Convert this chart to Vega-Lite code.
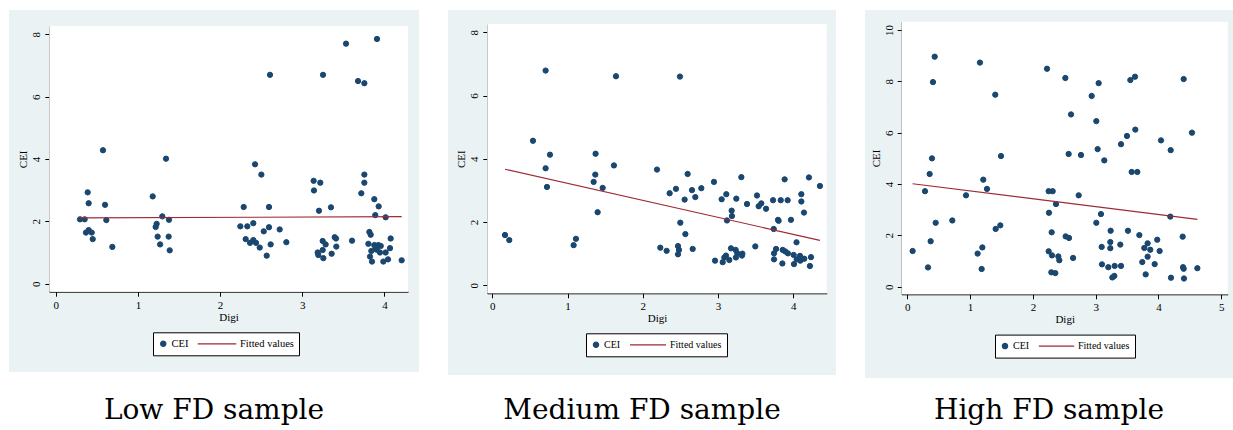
{
  "$schema": "https://vega.github.io/schema/vega-lite/v6.json",
  "background": "white",
  "padding": {"left": 9, "top": 10, "right": 0, "bottom": 0},
  "spacing": 29,
  "resolve": {"scale": {"color": "independent", "stroke": "independent", "shape": "independent", "size": "independent"}, "legend": {"color": "independent", "stroke": "independent", "shape": "independent", "size": "independent"}},
  "config": {
    "view": {"stroke": null},
    "axis": {
      "labelFont": "Liberation Serif", "labelFontSize": 11, "labelColor": "black",
      "titleFont": "Liberation Serif", "titleFontSize": 11, "titleFontWeight": "normal", "titleColor": "black",
      "domainColor": "black", "domainWidth": 1, "tickColor": "black", "tickWidth": 1, "tickSize": 4.5,
      "labelFlush": false, "zindex": 1, "format": "d"
    },
    "axisX": {"grid": false, "labelPadding": 3, "titlePadding": 1, "labelAngle": 0},
    "axisY": {"grid": true, "gridColor": "#e3ebee", "gridWidth": 1.5, "labelAngle": -90, "labelPadding": 3, "titlePadding": 2},
    "legend": {"labelFont": "Liberation Serif", "labelColor": "black", "symbolStrokeWidth": 1.2, "strokeColor": "black", "fillColor": "white", "padding": 5, "labelOffset": 3, "columnPadding": 8, "clipHeight": 13, "direction": "horizontal", "orient": "none"},
    "title": {"font": "DejaVu Serif", "fontSize": 28, "fontWeight": "normal", "color": "black", "orient": "bottom", "anchor": "middle", "baseline": "top"}
  },
  "datasets": {
    "low": [
      {"Digi":0.296,"CEI":2.065},{"Digi":0.352,"CEI":2.065},{"Digi":0.389,"CEI":2.93},{"Digi":0.401,"CEI":2.58},{"Digi":0.368,"CEI":1.64},{"Digi":0.401,"CEI":1.72},{"Digi":0.438,"CEI":1.64},{"Digi":0.45,"CEI":1.43},{"Digi":0.575,"CEI":4.28},{"Digi":0.6,"CEI":2.53},{"Digi":0.616,"CEI":2.04},{"Digi":0.689,"CEI":1.18},{"Digi":1.18,"CEI":2.8},{"Digi":1.216,"CEI":1.82},{"Digi":1.228,"CEI":1.92},{"Digi":1.24,"CEI":1.51},{"Digi":1.27,"CEI":1.26},{"Digi":1.297,"CEI":2.16},{"Digi":1.342,"CEI":4.01},{"Digi":1.378,"CEI":2.05},{"Digi":1.374,"CEI":1.51},{"Digi":1.387,"CEI":1.07},
      {"Digi":2.607,"CEI":6.7},{"Digi":3.252,"CEI":6.7},{"Digi":3.532,"CEI":7.7},{"Digi":3.909,"CEI":7.85},{"Digi":3.678,"CEI":6.5},{"Digi":3.755,"CEI":6.43},{"Digi":2.425,"CEI":3.83},{"Digi":2.502,"CEI":3.5},{"Digi":2.287,"CEI":2.46},{"Digi":2.595,"CEI":2.46},{"Digi":2.246,"CEI":1.84},{"Digi":2.331,"CEI":1.84},{"Digi":2.404,"CEI":1.94},{"Digi":2.311,"CEI":1.43},{"Digi":2.364,"CEI":1.31},{"Digi":2.404,"CEI":1.4},{"Digi":2.437,"CEI":1.31},{"Digi":2.482,"CEI":1.16},{"Digi":2.531,"CEI":1.68},{"Digi":2.595,"CEI":1.81},{"Digi":2.567,"CEI":0.9},{"Digi":2.615,"CEI":1.26},{"Digi":2.725,"CEI":1.74},{"Digi":2.806,"CEI":1.33},{"Digi":3.138,"CEI":3.3},{"Digi":3.219,"CEI":3.24},{"Digi":3.142,"CEI":2.99},{"Digi":3.203,"CEI":2.34},{"Digi":3.349,"CEI":2.45},{"Digi":3.187,"CEI":1.0},{"Digi":3.195,"CEI":0.92},{"Digi":3.256,"CEI":0.82},{"Digi":3.248,"CEI":1.37},{"Digi":3.284,"CEI":1.26},{"Digi":3.248,"CEI":1.08},{"Digi":3.357,"CEI":0.96},{"Digi":3.394,"CEI":1.49},{"Digi":3.414,"CEI":1.19},{"Digi":3.41,"CEI":1.45},{"Digi":3.605,"CEI":1.38},{"Digi":3.755,"CEI":3.5},{"Digi":3.755,"CEI":3.24},{"Digi":3.718,"CEI":2.9},{"Digi":3.876,"CEI":2.71},{"Digi":3.929,"CEI":2.48},{"Digi":3.888,"CEI":2.2},{"Digi":4.014,"CEI":2.13},{"Digi":3.816,"CEI":1.66},{"Digi":3.832,"CEI":1.57},{"Digi":3.804,"CEI":1.28},{"Digi":3.876,"CEI":1.24},{"Digi":3.925,"CEI":1.24},{"Digi":3.954,"CEI":1.21},{"Digi":3.84,"CEI":1.05},{"Digi":3.905,"CEI":1.09},{"Digi":3.945,"CEI":1.0},{"Digi":3.824,"CEI":0.87},{"Digi":3.848,"CEI":0.71},{"Digi":3.986,"CEI":0.71},{"Digi":4.014,"CEI":1.0},{"Digi":4.043,"CEI":0.78},{"Digi":4.067,"CEI":1.14},{"Digi":4.075,"CEI":1.45},{"Digi":4.209,"CEI":0.75},{"Digi":3.893,"CEI":1.17}
    ],
    "lowfit": [{"Digi":0.296,"Fitted":2.11},{"Digi":4.209,"Fitted":2.15}],
    "medium": [
      {"Digi":0.709,"CEI":6.79},{"Digi":1.644,"CEI":6.61},{"Digi":0.541,"CEI":4.57},{"Digi":0.767,"CEI":4.13},{"Digi":0.709,"CEI":3.7},{"Digi":0.727,"CEI":3.11},{"Digi":0.169,"CEI":1.59},{"Digi":0.226,"CEI":1.43},{"Digi":1.081,"CEI":1.27},{"Digi":1.112,"CEI":1.47},{"Digi":1.373,"CEI":4.16},{"Digi":1.369,"CEI":3.5},{"Digi":1.347,"CEI":3.27},{"Digi":1.467,"CEI":3.08},{"Digi":1.4,"CEI":2.31},{"Digi":1.617,"CEI":3.79},
      {"Digi":2.494,"CEI":6.6},{"Digi":2.189,"CEI":3.66},{"Digi":2.596,"CEI":3.52},{"Digi":2.357,"CEI":2.91},{"Digi":2.441,"CEI":3.05},{"Digi":2.556,"CEI":2.71},{"Digi":2.654,"CEI":3.01},{"Digi":2.698,"CEI":2.79},{"Digi":2.778,"CEI":3.07},{"Digi":2.499,"CEI":1.98},{"Digi":2.566,"CEI":1.62},{"Digi":2.233,"CEI":1.19},{"Digi":2.317,"CEI":1.09},{"Digi":2.468,"CEI":1.24},{"Digi":2.481,"CEI":1.12},{"Digi":2.468,"CEI":0.98},{"Digi":2.663,"CEI":1.15},{"Digi":2.946,"CEI":3.27},{"Digi":3.048,"CEI":2.72},{"Digi":3.11,"CEI":2.88},{"Digi":3.31,"CEI":3.42},{"Digi":3.243,"CEI":2.74},{"Digi":3.385,"CEI":2.57},{"Digi":3.181,"CEI":2.36},{"Digi":3.185,"CEI":2.19},{"Digi":3.119,"CEI":2.05},{"Digi":2.96,"CEI":0.78},{"Digi":3.062,"CEI":0.73},{"Digi":3.084,"CEI":0.88},{"Digi":3.106,"CEI":0.94},{"Digi":3.15,"CEI":0.8},{"Digi":3.172,"CEI":1.17},{"Digi":3.234,"CEI":1.12},{"Digi":3.238,"CEI":0.88},{"Digi":3.256,"CEI":1.01},{"Digi":3.318,"CEI":0.94},{"Digi":3.323,"CEI":1.0},{"Digi":3.495,"CEI":1.23},{"Digi":3.518,"CEI":2.84},{"Digi":3.54,"CEI":2.5},{"Digi":3.575,"CEI":2.59},{"Digi":3.638,"CEI":2.42},{"Digi":3.731,"CEI":2.69},{"Digi":3.833,"CEI":2.69},{"Digi":3.925,"CEI":2.69},{"Digi":3.885,"CEI":3.35},{"Digi":3.797,"CEI":2.07},{"Digi":3.805,"CEI":2.04},{"Digi":3.969,"CEI":2.07},{"Digi":3.74,"CEI":1.78},{"Digi":4.043,"CEI":1.36},{"Digi":3.744,"CEI":1.01},{"Digi":3.771,"CEI":1.15},{"Digi":3.744,"CEI":0.82},{"Digi":3.859,"CEI":1.12},{"Digi":3.894,"CEI":1.07},{"Digi":3.929,"CEI":1.01},{"Digi":3.855,"CEI":0.69},{"Digi":4.005,"CEI":0.96},{"Digi":4.009,"CEI":0.67},{"Digi":4.045,"CEI":0.82},{"Digi":4.089,"CEI":0.93},{"Digi":4.093,"CEI":0.78},{"Digi":4.146,"CEI":0.84},{"Digi":4.221,"CEI":0.61},{"Digi":4.235,"CEI":0.89},{"Digi":4.107,"CEI":2.88},{"Digi":4.107,"CEI":2.65},{"Digi":4.142,"CEI":2.3},{"Digi":4.208,"CEI":3.41},{"Digi":4.354,"CEI":3.14}
    ],
    "mediumfit": [{"Digi":0.169,"Fitted":3.67},{"Digi":4.354,"Fitted":1.42}],
    "high": [
      {"Digi":0.436,"CEI":8.96},{"Digi":0.409,"CEI":7.97},{"Digi":1.157,"CEI":8.73},{"Digi":1.401,"CEI":7.48},{"Digi":0.393,"CEI":5.0},{"Digi":0.356,"CEI":4.39},{"Digi":0.282,"CEI":3.72},{"Digi":0.452,"CEI":2.49},{"Digi":0.372,"CEI":1.77},{"Digi":0.085,"CEI":1.39},{"Digi":0.33,"CEI":0.75},{"Digi":0.717,"CEI":2.58},{"Digi":0.935,"CEI":3.56},{"Digi":1.21,"CEI":4.17},{"Digi":1.269,"CEI":3.81},{"Digi":1.492,"CEI":5.09},{"Digi":1.407,"CEI":2.25},{"Digi":1.481,"CEI":2.39},{"Digi":1.12,"CEI":1.29},{"Digi":1.195,"CEI":1.53},{"Digi":1.184,"CEI":0.69},
      {"Digi":2.225,"CEI":8.49},{"Digi":2.517,"CEI":8.13},{"Digi":3.047,"CEI":7.93},{"Digi":2.936,"CEI":7.43},{"Digi":2.607,"CEI":6.71},{"Digi":3.01,"CEI":6.45},{"Digi":3.552,"CEI":8.05},{"Digi":3.626,"CEI":8.18},{"Digi":4.401,"CEI":8.09},{"Digi":3.631,"CEI":6.12},{"Digi":3.498,"CEI":5.87},{"Digi":3.403,"CEI":5.55},{"Digi":3.031,"CEI":5.36},{"Digi":3.137,"CEI":4.92},{"Digi":2.569,"CEI":5.17},{"Digi":2.766,"CEI":5.13},{"Digi":4.04,"CEI":5.7},{"Digi":4.194,"CEI":5.32},{"Digi":4.533,"CEI":6.0},{"Digi":3.573,"CEI":4.47},{"Digi":3.663,"CEI":4.47},{"Digi":2.251,"CEI":3.72},{"Digi":2.315,"CEI":3.72},{"Digi":2.729,"CEI":3.56},{"Digi":2.368,"CEI":3.22},{"Digi":2.256,"CEI":2.88},{"Digi":3.084,"CEI":2.83},{"Digi":3.01,"CEI":2.49},{"Digi":4.188,"CEI":2.73},{"Digi":2.299,"CEI":2.12},{"Digi":2.522,"CEI":1.96},{"Digi":2.575,"CEI":1.9},{"Digi":3.238,"CEI":2.18},{"Digi":3.514,"CEI":2.18},{"Digi":3.695,"CEI":2.01},{"Digi":3.233,"CEI":1.74},{"Digi":3.095,"CEI":1.55},{"Digi":3.233,"CEI":1.5},{"Digi":3.392,"CEI":1.64},{"Digi":3.774,"CEI":1.51},{"Digi":3.827,"CEI":1.69},{"Digi":3.869,"CEI":1.44},{"Digi":3.98,"CEI":1.83},{"Digi":4.018,"CEI":1.39},{"Digi":4.385,"CEI":1.95},{"Digi":2.251,"CEI":1.38},{"Digi":2.304,"CEI":1.22},{"Digi":2.405,"CEI":1.18},{"Digi":2.421,"CEI":1.03},{"Digi":2.64,"CEI":1.12},{"Digi":3.827,"CEI":1.17},{"Digi":3.742,"CEI":0.96},{"Digi":3.939,"CEI":0.88},{"Digi":3.1,"CEI":0.87},{"Digi":3.201,"CEI":0.76},{"Digi":3.302,"CEI":0.81},{"Digi":3.403,"CEI":0.81},{"Digi":3.796,"CEI":0.48},{"Digi":3.265,"CEI":0.36},{"Digi":3.297,"CEI":0.42},{"Digi":2.294,"CEI":0.56},{"Digi":2.357,"CEI":0.53},{"Digi":4.199,"CEI":0.35},{"Digi":4.391,"CEI":0.76},{"Digi":4.401,"CEI":0.7},{"Digi":4.406,"CEI":0.32},{"Digi":4.619,"CEI":0.72}
    ],
    "highfit": [{"Digi":0.085,"Fitted":4.01},{"Digi":4.619,"Fitted":2.62}]
  },
  "hconcat": [
    {
      "width": 410, "height": 362,
      "view": {"fill": "#eaf2f3", "stroke": null},
      "title": {"text": "Low FD sample", "offset": 25.4},
      "layer": [
        {
          "data": {"values": [{}]},
          "mark": {"type": "rect", "fill": "white"},
          "encoding": {
            "x": {"datum": -0.078, "type": "quantitative",
              "scale": {"domain": [-0.078, 4.286], "range": [40.3, 399], "nice": false, "zero": false},
              "axis": {"values": [0, 1, 2, 3, 4], "offset": -80.3, "title": "Digi"}},
            "x2": {"datum": 4.286},
            "y": {"datum": -0.257, "type": "quantitative",
              "scale": {"domain": [-0.257, 8.266], "range": [281.7, 16], "nice": false, "zero": false},
              "axis": {"values": [0, 2, 4, 6, 8], "offset": -40.3, "title": "CEI"}},
            "y2": {"datum": 8.266}
          }
        },
        {
          "data": {"name": "low"},
          "mark": {"type": "point", "filled": true, "opacity": 1, "strokeWidth": 1},
          "encoding": {
            "x": {"field": "Digi", "type": "quantitative"},
            "y": {"field": "CEI", "type": "quantitative"},
            "color": {"datum": "CEI", "type": "nominal",
              "scale": {"domain": ["CEI", "Fitted values"], "range": ["#1a476f", "#9e2a36"]},
              "legend": {"title": null, "legendX": 144, "legendY": 322.3, "labelFontSize": 10.5}},
            "stroke": {"datum": "CEI", "type": "nominal",
              "scale": {"domain": ["CEI", "Fitted values"], "range": ["#1a476f", "#9e2a36"]},
              "legend": {"title": null, "legendX": 144, "legendY": 322.3, "labelFontSize": 10.5}},
            "shape": {"datum": "CEI", "type": "nominal",
              "scale": {"domain": ["CEI", "Fitted values"], "range": ["circle", "stroke"]},
              "legend": {"title": null, "legendX": 144, "legendY": 322.3, "labelFontSize": 10.5}},
            "size": {"datum": "CEI", "type": "nominal",
              "scale": {"domain": ["CEI", "Fitted values"], "range": [28, 1490], "padding": 0},
              "legend": {"title": null, "legendX": 144, "legendY": 322.3, "labelFontSize": 10.5}}
          }
        },
        {
          "data": {"name": "lowfit"},
          "mark": {"type": "line", "strokeWidth": 1.2, "color": "#9e2a36"},
          "encoding": {
            "x": {"field": "Digi", "type": "quantitative"},
            "y": {"field": "Fitted", "type": "quantitative"}
          }
        }
      ]
    },
    {
      "width": 388, "height": 365,
      "view": {"fill": "#eaf2f3", "stroke": null},
      "title": {"text": "Medium FD sample", "offset": 22.4},
      "layer": [
        {
          "data": {"values": [{}]},
          "mark": {"type": "rect", "fill": "white"},
          "encoding": {
            "x": {"datum": -0.066, "type": "quantitative",
              "scale": {"domain": [-0.066, 4.444], "range": [39.3, 378.7], "nice": false, "zero": false},
              "axis": {"values": [0, 1, 2, 3, 4], "offset": -81.7, "title": "Digi"}},
            "x2": {"datum": 4.444},
            "y": {"datum": -0.253, "type": "quantitative",
              "scale": {"domain": [-0.253, 8.262], "range": [283.3, 14], "nice": false, "zero": false},
              "axis": {"values": [0, 2, 4, 6, 8], "offset": -39.3, "title": "CEI"}},
            "y2": {"datum": 8.262}
          }
        },
        {
          "data": {"name": "medium"},
          "mark": {"type": "point", "filled": true, "opacity": 1, "strokeWidth": 1},
          "encoding": {
            "x": {"field": "Digi", "type": "quantitative"},
            "y": {"field": "CEI", "type": "quantitative"},
            "color": {"datum": "CEI", "type": "nominal",
              "scale": {"domain": ["CEI", "Fitted values"], "range": ["#1a476f", "#9e2a36"]},
              "legend": {"title": null, "legendX": 138, "legendY": 323.3, "labelFontSize": 10}},
            "stroke": {"datum": "CEI", "type": "nominal",
              "scale": {"domain": ["CEI", "Fitted values"], "range": ["#1a476f", "#9e2a36"]},
              "legend": {"title": null, "legendX": 138, "legendY": 323.3, "labelFontSize": 10}},
            "shape": {"datum": "CEI", "type": "nominal",
              "scale": {"domain": ["CEI", "Fitted values"], "range": ["circle", "stroke"]},
              "legend": {"title": null, "legendX": 138, "legendY": 323.3, "labelFontSize": 10}},
            "size": {"datum": "CEI", "type": "nominal",
              "scale": {"domain": ["CEI", "Fitted values"], "range": [28, 1296], "padding": 0},
              "legend": {"title": null, "legendX": 138, "legendY": 323.3, "labelFontSize": 10}}
          }
        },
        {
          "data": {"name": "mediumfit"},
          "mark": {"type": "line", "strokeWidth": 1.2, "color": "#9e2a36"},
          "encoding": {
            "x": {"field": "Digi", "type": "quantitative"},
            "y": {"field": "Fitted", "type": "quantitative"}
          }
        }
      ]
    },
    {
      "width": 368, "height": 368,
      "view": {"fill": "#eaf2f3", "stroke": null},
      "title": {"text": "High FD sample", "offset": 19.4},
      "layer": [
        {
          "data": {"values": [{}]},
          "mark": {"type": "rect", "fill": "white"},
          "encoding": {
            "x": {"datum": -0.089, "type": "quantitative",
              "scale": {"domain": [-0.089, 5.102], "range": [36.7, 362.7], "nice": false, "zero": false},
              "axis": {"values": [0, 1, 2, 3, 4, 5], "offset": -83.7, "title": "Digi"}},
            "x2": {"datum": 5.102},
            "y": {"datum": -0.296, "type": "quantitative",
              "scale": {"domain": [-0.296, 10.323], "range": [284.3, 11.7], "nice": false, "zero": false},
              "axis": {"values": [0, 2, 4, 6, 8, 10], "offset": -36.7, "title": "CEI"}},
            "y2": {"datum": 10.323}
          }
        },
        {
          "data": {"name": "high"},
          "mark": {"type": "point", "filled": true, "opacity": 1, "strokeWidth": 1},
          "encoding": {
            "x": {"field": "Digi", "type": "quantitative"},
            "y": {"field": "CEI", "type": "quantitative"},
            "color": {"datum": "CEI", "type": "nominal",
              "scale": {"domain": ["CEI", "Fitted values"], "range": ["#1a476f", "#9e2a36"]},
              "legend": {"title": null, "legendX": 130, "legendY": 324.6, "labelFontSize": 10}},
            "stroke": {"datum": "CEI", "type": "nominal",
              "scale": {"domain": ["CEI", "Fitted values"], "range": ["#1a476f", "#9e2a36"]},
              "legend": {"title": null, "legendX": 130, "legendY": 324.6, "labelFontSize": 10}},
            "shape": {"datum": "CEI", "type": "nominal",
              "scale": {"domain": ["CEI", "Fitted values"], "range": ["circle", "stroke"]},
              "legend": {"title": null, "legendX": 130, "legendY": 324.6, "labelFontSize": 10}},
            "size": {"datum": "CEI", "type": "nominal",
              "scale": {"domain": ["CEI", "Fitted values"], "range": [28, 1253], "padding": 0},
              "legend": {"title": null, "legendX": 130, "legendY": 324.6, "labelFontSize": 10}}
          }
        },
        {
          "data": {"name": "highfit"},
          "mark": {"type": "line", "strokeWidth": 1.2, "color": "#9e2a36"},
          "encoding": {
            "x": {"field": "Digi", "type": "quantitative"},
            "y": {"field": "Fitted", "type": "quantitative"}
          }
        }
      ]
    }
  ]
}
